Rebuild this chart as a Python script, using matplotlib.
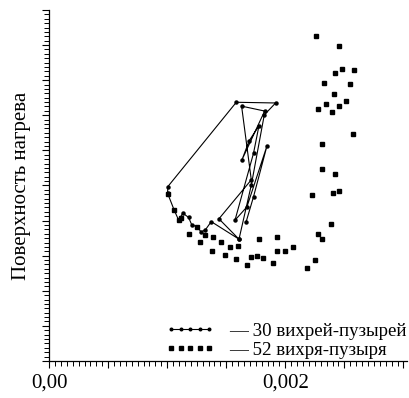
import matplotlib
matplotlib.use("Agg")
import matplotlib.pyplot as plt
from matplotlib.ticker import MultipleLocator, FuncFormatter

# x values in units of 1e-3, y in arbitrary units (0..100)
vortex30_x = [1.669, 1.731, 1.845, 1.675, 1.574, 1.731, 1.777, 1.695, 1.633, 1.825,
              1.630, 1.712, 1.438, 1.608, 1.373, 1.322, 1.286, 1.252, 1.209, 1.181,
              1.133, 1.096, 1.059, 1.003, 1.006, 1.585, 1.918, 1.822, 1.712, 1.608]
vortex30_y = [39.7, 46.8, 61.3, 43.9, 40.1, 59.2, 67.0, 62.8, 57.3, 71.2,
              72.6, 51.6, 40.5, 34.7, 39.7, 37.3, 36.8, 38.3, 38.7, 40.9,
              42.1, 40.2, 43.0, 47.8, 49.7, 73.7, 73.5, 70.1, 50.1, 34.7]

vortex52_x = [2.260, 2.452, 2.418, 2.477, 2.585, 2.328, 2.545, 2.415, 2.280, 2.345,
              2.398, 2.452, 2.511, 2.576, 2.311, 2.308, 2.424, 2.229, 2.407, 2.455,
              2.390, 2.274, 2.314, 2.248, 2.186, 2.065, 2.000, 1.932, 1.926, 1.774,
              1.892, 1.808, 1.760, 1.709, 1.675, 1.582, 1.599, 1.528, 1.486, 1.381,
              1.452, 1.390, 1.319, 1.280, 1.186, 1.119, 1.059, 1.003, 1.252, 1.096]
vortex52_y = [92.7, 89.8, 82.1, 83.1, 82.8, 79.2, 79.0, 76.1, 71.8, 73.1,
              70.9, 72.5, 74.2, 64.7, 61.9, 54.7, 53.4, 47.4, 47.9, 48.3,
              39.0, 36.2, 34.8, 28.8, 26.5, 32.5, 31.4, 31.3, 35.4, 34.7,
              28.0, 29.3, 29.8, 29.5, 27.3, 29.0, 32.8, 32.6, 30.1, 31.4,
              34.0, 35.4, 35.8, 33.9, 36.1, 40.7, 42.9, 47.6, 38.3, 40.2]

labels = ["— 30 вихрей-пузырей", "— 52 вихря-пузыря"]

plt.rcParams['font.family'] = ['Liberation Serif', 'DejaVu Serif']

fig = plt.figure(figsize=(4.09, 3.98), dpi=100)
ax = fig.add_axes([0.12, 0.093, 0.875, 0.882])

ax.plot([v * 1e-3 for v in vortex30_x], vortex30_y, color='black', lw=0.8,
        marker='o', markersize=2.2, label=labels[0])
ax.plot([v * 1e-3 for v in vortex52_x], vortex52_y, color='black', ls='none',
        marker='s', markersize=3.0, label=labels[1])

ax.set_xlim(0, 0.00303)
ax.set_ylim(0, 100)

for s in ['top', 'right']:
    ax.spines[s].set_visible(False)
for s in ['left', 'bottom']:
    ax.spines[s].set_linewidth(0.9)

ax.xaxis.set_major_locator(MultipleLocator(0.0005))
ax.xaxis.set_minor_locator(MultipleLocator(0.00005))


def xfmt(v, pos):
    if abs(v) < 1e-9:
        return "0,00"
    if abs(v - 0.002) < 1e-9:
        return "0,002"
    return ""


ax.xaxis.set_major_formatter(FuncFormatter(xfmt))
ax.yaxis.set_major_locator(MultipleLocator(10))
ax.yaxis.set_minor_locator(MultipleLocator(1.25))
ax.yaxis.set_major_formatter(FuncFormatter(lambda v, p: ""))
ax.tick_params(which='major', direction='out', length=5, width=0.8,
               labelsize=15, pad=4)
ax.tick_params(which='minor', direction='out', length=3.5, width=0.7)

ax.set_ylabel("Поверхность нагрева", fontsize=15, labelpad=4)

ax.legend(loc='lower right', bbox_to_anchor=(1.02, -0.015), frameon=False,
          numpoints=5, handlelength=2.6, handletextpad=0.75, labelspacing=0.1,
          fontsize=13.6, borderaxespad=0.0, markerscale=0.85)

fig.savefig("out.png", dpi=100)
